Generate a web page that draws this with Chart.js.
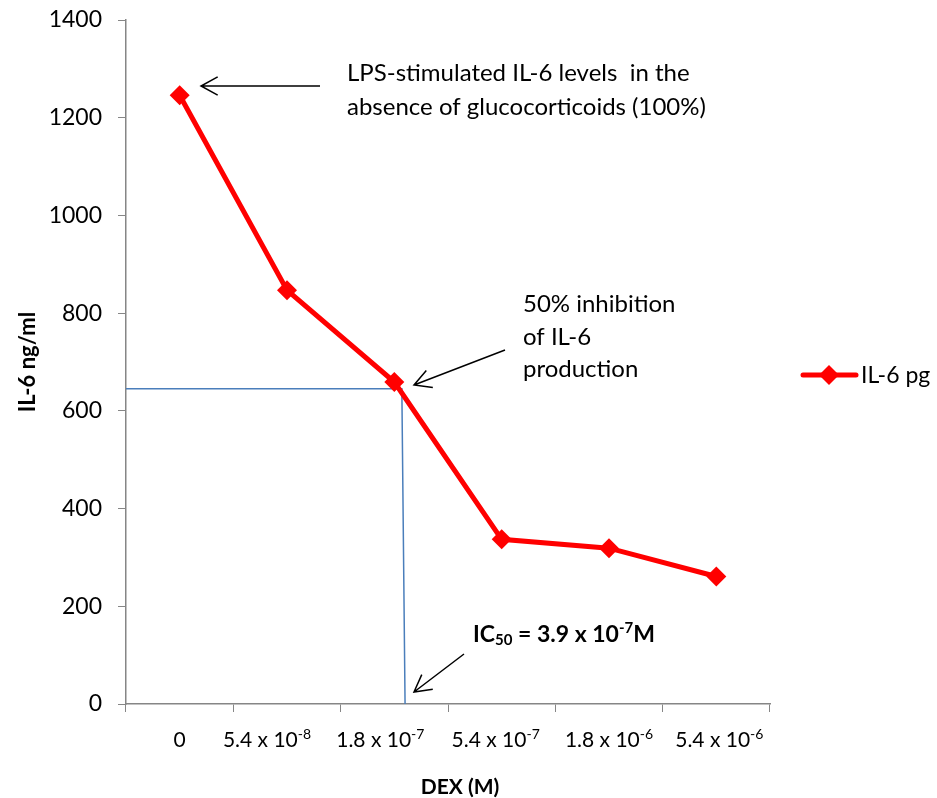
<!DOCTYPE html>
<html lang="en">
<head>
<meta charset="UTF-8" />
<title>IL-6 vs DEX</title>
<script src="https://cdn.jsdelivr.net/npm/chart.js@4.4.0/dist/chart.umd.min.js"></script>
<style>
  html, body { margin: 0; padding: 0; background: #fff; }
  canvas { display: block; }
</style>
</head>
<body>
<canvas id="il6Chart" width="937" height="798"></canvas>
<script>
  const FONT = 'Lato, sans-serif';

  // data
  const doseBase = ['0', '5.4 x 10', '1.8 x 10', '5.4 x 10', '1.8 x 10', '5.4 x 10'];
  const doseExp = ['', '-8', '-7', '-7', '-6', '-6'];
  const doseLabels = doseBase.map((b, i) => b + (doseExp[i] ? 'e' + doseExp[i] : ''));
  const il6Values = [1246, 847, 659, 337, 319, 261];
  // 50% guide line (x in category units)
  const guideX = [-0.5, 2.07, 2.1];
  const guideY = [645, 645, 0];
  const yMin = 0, yMax = 1400, yStep = 200;

  const AXIS = '#868686';
  const RED = '#ff0000';
  const BLUE = '#4a7ebb';

  // small horizontal shifts of the dose labels, as in the original
  const labelNudge = [0, -20, -14, -6, 0, 3];

  function richText(ctx, parts, x, y, align) {
    let w = 0;
    parts.forEach(p => {
      ctx.font = (p.bold ? 'bold ' : '') + p.size + 'px ' + FONT;
      p.w = ctx.measureText(p.t).width;
      w += p.w;
    });
    let cx = align === 'center' ? x - w / 2 : x;
    ctx.textAlign = 'left';
    ctx.textBaseline = 'alphabetic';
    parts.forEach(p => {
      ctx.font = (p.bold ? 'bold ' : '') + p.size + 'px ' + FONT;
      ctx.fillText(p.t, cx, y + (p.dy || 0));
      cx += p.w;
    });
  }

  function arrow(ctx, x1, y1, x2, y2) {
    const a = Math.atan2(y2 - y1, x2 - x1), L = 19, s = 0.5;
    ctx.beginPath();
    ctx.moveTo(x1, y1);
    ctx.lineTo(x2, y2);
    ctx.moveTo(x2 - L * Math.cos(a - s), y2 - L * Math.sin(a - s));
    ctx.lineTo(x2, y2);
    ctx.lineTo(x2 - L * Math.cos(a + s), y2 - L * Math.sin(a + s));
    ctx.stroke();
  }

  const extras = {
    id: 'extras',
    afterDraw(chart) {
      const ctx = chart.ctx;
      const xs = chart.scales.x;
      ctx.save();
      ctx.fillStyle = '#000';

      // dose tick labels with superscripts
      doseBase.forEach((b, i) => {
        const x = xs.getPixelForValue(i) + labelNudge[i];
        const parts = [{ t: b, size: 21 }];
        if (doseExp[i]) parts.push({ t: doseExp[i], size: 14, dy: -8 });
        richText(ctx, parts, x, xs.top + 43, 'center');
      });

      // x axis title
      ctx.font = 'bold 21px ' + FONT;
      ctx.textAlign = 'center';
      ctx.textBaseline = 'alphabetic';
      ctx.fillText('DEX (M)', 460, 794);

      // annotations
      ctx.font = '24px ' + FONT;
      ctx.textAlign = 'left';
      ctx.fillText('LPS-stimulated IL-6 levels  in the', 347, 81);
      ctx.fillText('absence of glucocorticoids (100%)', 347, 115);
      ctx.fillText('50% inhibition', 523, 312);
      ctx.fillText('of IL-6', 523, 345);
      ctx.fillText('production', 523, 377);
      richText(ctx, [
        { t: 'IC', size: 23, bold: true },
        { t: '50', size: 15, bold: true, dy: 3 },
        { t: ' = 3.9 x 10', size: 23, bold: true },
        { t: '-7', size: 15, bold: true, dy: -9 },
        { t: 'M', size: 23, bold: true }
      ], 473, 642, 'left');

      ctx.strokeStyle = '#000';
      ctx.lineWidth = 1.5;
      arrow(ctx, 320, 86, 201, 86);
      arrow(ctx, 505, 350, 414, 385);
      arrow(ctx, 464, 654, 414, 692);

      // legend
      ctx.strokeStyle = RED;
      ctx.lineWidth = 5;
      ctx.lineCap = 'round';
      ctx.beginPath();
      ctx.moveTo(803, 375);
      ctx.lineTo(856, 375);
      ctx.stroke();
      ctx.fillStyle = RED;
      ctx.beginPath();
      ctx.moveTo(829, 365);
      ctx.lineTo(839, 375);
      ctx.lineTo(829, 385);
      ctx.lineTo(819, 375);
      ctx.closePath();
      ctx.fill();
      ctx.fillStyle = '#000';
      ctx.font = '23px ' + FONT;
      ctx.textBaseline = 'middle';
      ctx.fillText('IL-6 pg', 861, 376);
      ctx.restore();
    }
  };

  new Chart(document.getElementById('il6Chart'), {
    type: 'line',
    data: {
      labels: doseLabels,
      datasets: [
        {
          label: 'IL-6 pg',
          data: il6Values,
          xAxisID: 'x',
          borderColor: RED,
          backgroundColor: RED,
          borderWidth: 5,
          pointStyle: 'rectRot',
          pointRadius: 10,
          pointBorderWidth: 0,
          tension: 0,
          order: 0
        },
        {
          label: 'guide',
          data: guideX.map((x, i) => ({ x: x, y: guideY[i] })),
          xAxisID: 'x2',
          borderColor: BLUE,
          borderWidth: 1.5,
          pointRadius: 0,
          tension: 0,
          order: 1
        }
      ]
    },
    options: {
      responsive: false,
      animation: false,
      layout: { padding: { top: 20, right: 167, left: 0, bottom: 0 } },
      plugins: { legend: { display: false }, tooltip: { enabled: false } },
      scales: {
        x: {
          type: 'category',
          offset: true,
          grid: { display: true, drawOnChartArea: false, offset: true, color: AXIS, tickLength: 8, lineWidth: 1 },
          border: { color: AXIS, width: 1.5 },
          ticks: { callback: () => '' },
          afterFit: s => { s.height = 94; }
        },
        x2: { type: 'linear', display: false, min: -0.5, max: 5.5 },
        y: {
          min: yMin,
          max: yMax,
          ticks: { stepSize: yStep, color: '#000', font: { family: FONT, size: 23, lineHeight: 0.3 }, padding: 16, callback: v => String(v) },
          grid: { drawOnChartArea: false, color: AXIS, tickLength: 8, lineWidth: 1 },
          border: { color: AXIS, width: 1.5 },
          title: { display: true, text: 'IL-6 ng/ml', color: '#000', font: { family: FONT, size: 22, weight: 'bold' }, padding: { top: 15, bottom: 0 } },
          afterFit: s => { s.width = 126; }
        }
      }
    },
    plugins: [extras]
  });
</script>
</body>
</html>
